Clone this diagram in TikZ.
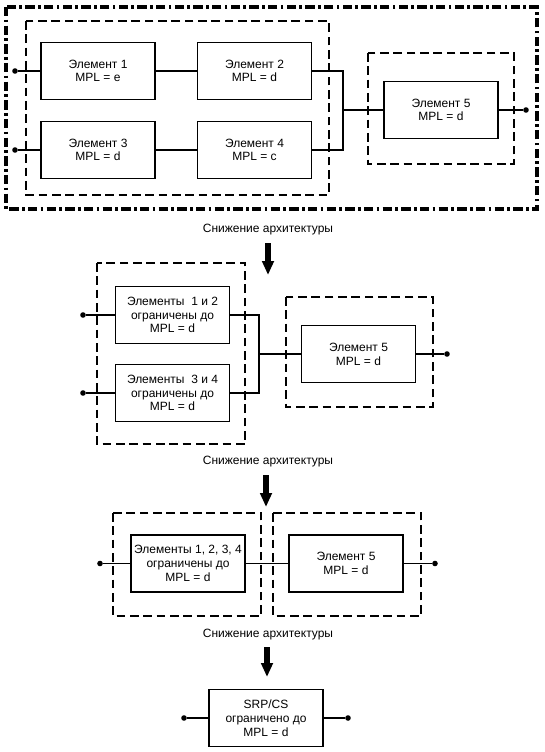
\documentclass[tikz,border=0pt]{standalone}
\usepackage{fontspec}
\setmainfont{Liberation Sans}
\usetikzlibrary{arrows.meta}

\begin{document}
\begin{tikzpicture}[x=0.75pt,y=-0.75pt,
    font=\fontsize{9}{10.3}\selectfont,
    elem/.style={draw, line width=1.4pt, align=center, inner sep=1pt,
      minimum width=85.5pt, minimum height=42.75pt},
    grp/.style={draw, line width=1.7pt, dash pattern=on 6.5pt off 3.5pt},
    outer/.style={draw, line width=2.6pt,
      dash pattern=on 7pt off 2.5pt on 2pt off 2.5pt},
    wire/.style={line width=1.4pt},
    pin/.style={circle, fill, inner sep=0pt, minimum size=4.2pt},
    down/.style={line width=4pt, -{Triangle[width=8.5pt,length=10.5pt]}}]
  \useasboundingbox (0,0) rectangle (544,752);

  % --- stage 1 ---
  \draw[outer] (6,7) rectangle (537,209);
  \draw[grp] (26,21) rectangle (329,195);
  \draw[grp] (368,53) rectangle (514,164);
  \node[elem] (e1) at (98,71) {Элемент 1\\MPL = e};
  \node[elem] (e2) at (254.5,71) {Элемент 2\\MPL = d};
  \node[elem] (e3) at (98,150) {Элемент 3\\MPL = d};
  \node[elem] (e4) at (254.5,150) {Элемент 4\\MPL = c};
  \node[elem] (e5) at (441,110) {Элемент 5\\MPL = d};
  \node[pin] (p1) at (15,71) {};
  \node[pin] (p3) at (15,150) {};
  \node[pin] (p5) at (526,110) {};
  \coordinate (j1) at (343,110);
  \draw[wire] (p1) -- (e1) -- (e2);
  \draw[wire] (p3) -- (e3) -- (e4);
  \draw[wire] (e2.east) -| (j1);
  \draw[wire] (e4.east) -| (j1);
  \draw[wire] (j1) -- (e5) -- (p5);
  \node (t1) at (268,230) {Снижение архитектуры};
  \coordinate (a1s) at (268,243);
  \coordinate (a1e) at (268,275);
  \draw[down] (a1s) -- (a1e);

  % --- stage 2 ---
  \draw[grp] (97,263) rectangle (245,444);
  \draw[grp] (286,297) rectangle (433,407);
  \node[elem] (m12) at (172.5,315) {Элементы~ 1 и 2\\ограничены до\\MPL = d};
  \node[elem] (m34) at (172.5,393) {Элементы~ 3 и 4\\ограничены до\\MPL = d};
  \node[elem] (m5) at (358.5,354) {Элемент 5\\MPL = d};
  \node[pin] (q1) at (83,315) {};
  \node[pin] (q3) at (83,393) {};
  \node[pin] (q5) at (447,354) {};
  \coordinate (j2) at (259,354);
  \draw[wire] (q1) -- (m12);
  \draw[wire] (q3) -- (m34);
  \draw[wire] (m12.east) -| (j2);
  \draw[wire] (m34.east) -| (j2);
  \draw[wire] (j2) -- (m5) -- (q5);
  \node (t2) at (268,462) {Снижение архитектуры};
  \coordinate (a2s) at (266,475);
  \coordinate (a2e) at (266,507);
  \draw[down] (a2s) -- (a2e);

  % --- stage 3 ---
  \draw[grp] (113,513) rectangle (261,616);
  \draw[grp] (273,513) rectangle (421,616);
  \node[elem] (n14) at (188,563.5) {Элементы 1, 2, 3, 4\\ограничены до\\MPL = d};
  \node[elem] (n5) at (346,563.5) {Элемент 5\\MPL = d};
  \node[pin] (r1) at (100,563.5) {};
  \node[pin] (r5) at (435,563.5) {};
  \draw[wire] (r1) -- (n14) -- (n5) -- (r5);
  \node (t3) at (268,635) {Снижение архитектуры};
  \coordinate (a3s) at (267,647);
  \coordinate (a3e) at (267,677);
  \draw[down] (a3s) -- (a3e);

  % --- stage 4 ---
  \node[elem] (srp) at (266,718) {SRP/CS\\ограничено до\\MPL = d};
  \node[pin] (s1) at (184,718) {};
  \node[pin] (s5) at (348,718) {};
  \draw[wire] (s1) -- (srp) -- (s5);
\end{tikzpicture}
\end{document}
